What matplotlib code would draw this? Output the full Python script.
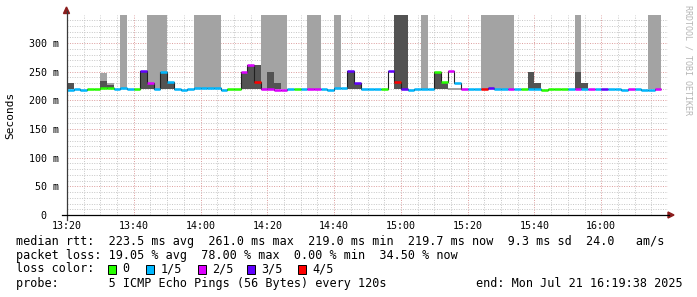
import matplotlib
matplotlib.use("Agg")
import matplotlib.pyplot as plt
from matplotlib.lines import Line2D
from matplotlib.patches import Polygon, Rectangle
from matplotlib.ticker import MultipleLocator, FuncFormatter, FixedLocator

# one step every 120 s starting at 13:20, values in ms
median = [218.5, 220, 218.5, 220, 220, 222, 221, 220.5, 221, 220.5,
          220.5, 251, 231, 220, 249, 232, 220, 218.5, 220, 221,
          221, 221, 221, 218.5, 219.5, 219.5, 250, 261, 232, 220,
          220, 218.5, 218.5, 219.5, 219.5, 220, 220, 220, 220, 218.5,
          221, 221.5, 250.5, 231, 220, 220, 220, 220, 252, 232,
          220, 218.5, 220, 220, 220, 250, 232, 251, 231, 220,
          220, 220, 220, 221, 220, 220, 220, 220, 220, 220,
          220, 218.5, 220, 220, 220, 220, 220, 220, 220, 220,
          220, 220, 220, 218.5, 220, 220, 218.5, 218.5, 220]
loss = [1, 1, 1, 0, 0, 0, 0, 1, 1, 1,
        0, 3, 2, 1, 1, 1, 1, 1, 1, 1,
        1, 1, 1, 1, 0, 0, 2, 2, 4, 2,
        2, 2, 2, 1, 0, 1, 2, 2, 1, 1,
        1, 1, 3, 3, 1, 1, 1, 0, 3, 4,
        3, 1, 1, 1, 1, 0, 0, 2, 1, 2,
        1, 1, 4, 3, 1, 1, 2, 1, 0, 1,
        1, 0, 0, 0, 0, 1, 2, 1, 2, 1,
        3, 1, 1, 1, 2, 1, 1, 1, 2]

# smoke bands per step (index, low, high); 400 = off the top of the graph
light_step = [5, 6, 8, 12, 13, 14, 19, 20, 21, 22, 29, 30, 31, 32, 36, 37,
              40, 53, 57, 58, 62, 63, 64, 65, 66, 76, 87, 88]
light_lo = [219, 219, 219, 219, 219, 219, 219, 219, 219, 219,
            219, 219, 219, 219, 219, 219, 219, 219, 218.5, 218.5,
            219, 219, 219, 219, 219, 219, 219, 219]
light_hi = [248, 230.5, 400, 400, 400, 400, 400, 400, 400, 400, 400, 400,
            400, 400, 400, 400, 400, 400, 222, 222, 400, 400, 400, 400, 400,
            400, 400, 400]
dark_step = [0, 5, 6, 11, 12, 14, 15, 26, 27, 28, 30, 31, 42, 43, 49, 50,
             55, 56, 69, 70, 76, 77]
dark_lo = [219.5, 219.5, 219.5, 219.5, 219.5, 219.5, 219.5, 219.5, 219.5,
           219.5, 219.5, 219.5, 219.5, 219.5, 219.5, 219.5, 219.5, 219.5,
           219.5, 219.5, 219.5, 219.5]
dark_hi = [230, 234, 226, 251, 230, 250, 232, 250, 262, 262, 250, 231, 251,
           230, 400, 400, 250, 232, 250, 231, 250, 231]

loss_labels = ["0", "1/5", "2/5", "3/5", "4/5"]
loss_colors = ["#26ff00", "#00b8ff", "#dd00ff", "#6000ff", "#ff0000"]
time_labels = ["13:20", "13:40", "14:00", "14:20", "14:40", "15:00", "15:20", "15:40", "16:00"]

legend_lines = [
    "median rtt:  223.5 ms avg  261.0 ms max  219.0 ms min  219.7 ms now  9.3 ms sd  24.0   am/s",
    "packet loss: 19.05 % avg  78.00 % max  0.00 % min  34.50 % now",
    "loss color:",
    "probe:       5 ICMP Echo Pings (56 Bytes) every 120s",
]
end_text = "end: Mon Jul 21 16:19:38 2025"

STEP = 2  # minutes
W, H = 697, 297
YMAX = 349
MONO = "DejaVu Sans Mono"


def fx(x):
    return x / W


def fy(y):
    return 1 - y / H


fig = plt.figure(figsize=(W / 100, H / 100), dpi=100, facecolor="white")
ax = fig.add_axes([fx(67), fy(215), fx(668) - fx(67), fy(15) - fy(215)])
ax.set_facecolor("white")

ax.bar([s * STEP for s in light_step], [h - l for h, l in zip(light_hi, light_lo)],
       bottom=light_lo, width=STEP, align="edge", color="#a3a3a3", linewidth=0, zorder=2)
ax.bar([s * STEP for s in dark_step], [h - l for h, l in zip(dark_hi, dark_lo)],
       bottom=dark_lo, width=STEP, align="edge", color="#535353", linewidth=0, zorder=3)

edges = [i * STEP for i in range(len(median) + 1)]
ax.stairs(median, edges, baseline=None, color="#202020", linewidth=0.8, zorder=4)
ax.hlines(median, edges[:-1], edges[1:], colors=[loss_colors[l] for l in loss],
          linewidth=1.8, capstyle="butt", zorder=5)

ax.set_xlim(0, 180)
ax.set_ylim(0, YMAX)
ax.xaxis.set_major_locator(FixedLocator(range(0, 161, 20)))
ax.xaxis.set_minor_locator(MultipleLocator(5))
ax.set_xticklabels(time_labels)
ax.yaxis.set_major_locator(FixedLocator(range(0, 301, 50)))
ax.yaxis.set_minor_locator(MultipleLocator(10))
ax.yaxis.set_major_formatter(FuncFormatter(lambda v, p: "0  " if v == 0 else f"{v:.0f} m"))

ax.set_axisbelow(True)
ax.grid(which="minor", color="#c6c6c6", linestyle=(0, (1, 1.5)), linewidth=0.7)
ax.grid(which="major", color="#dc9c9c", linestyle=(0, (1, 1.5)), linewidth=0.7)
for sp in ax.spines.values():
    sp.set_visible(False)
ax.tick_params(which="both", length=0)
ax.tick_params(axis="x", pad=4)
ax.tick_params(axis="y", pad=5.5)
for lab in ax.get_xticklabels() + ax.get_yticklabels():
    lab.set_fontfamily(MONO)
    lab.set_fontsize(7.2)
    lab.set_color("#000000")

# axes with arrows
fig.add_artist(Line2D([fx(66.5), fx(66.5)], [fy(220), fy(11)], color="#3a3a3a", lw=0.9))
fig.add_artist(Line2D([fx(62), fx(669)], [fy(215), fy(215)], color="#000000", lw=0.9))
fig.add_artist(Polygon([(fx(63.5), fy(13.5)), (fx(69.5), fy(13.5)), (fx(66.5), fy(7))],
                       closed=True, color="#8b1d1d", transform=fig.transFigure))
fig.add_artist(Polygon([(fx(668), fy(212)), (fx(668), fy(218)), (fx(674), fy(215))],
                       closed=True, color="#8b1d1d", transform=fig.transFigure))

fig.text(fx(10), fy(115), "Seconds", rotation=90, ha="center", va="center",
         family=MONO, fontsize=8)
fig.text(fx(688), fy(5), "RRDTOOL / TOBI OETIKER", rotation=270, ha="center", va="top",
         family=MONO, fontsize=6, color="#b5b5b5")

# legend
line_y = [241.3, 255.3, 268.7, 283.7]
for txt, y in zip(legend_lines, line_y):
    fig.text(fx(16), fy(y), txt, ha="left", va="center", family=MONO, fontsize=8.5)
fig.text(fx(683), fy(line_y[3]), end_text, ha="right", va="center", family=MONO, fontsize=8.5)

box_x = [108, 146, 198, 247, 298]
for bx, lab, col in zip(box_x, loss_labels, loss_colors):
    fig.add_artist(Rectangle((fx(bx), fy(273.5)), fx(8), 9 / H, facecolor=col,
                             edgecolor="black", linewidth=0.7, transform=fig.transFigure))
    fig.text(fx(bx + 14.5), fy(line_y[2]), lab, ha="left", va="center", family=MONO, fontsize=8.5)

fig.savefig("out.png", dpi=100, facecolor="white")
